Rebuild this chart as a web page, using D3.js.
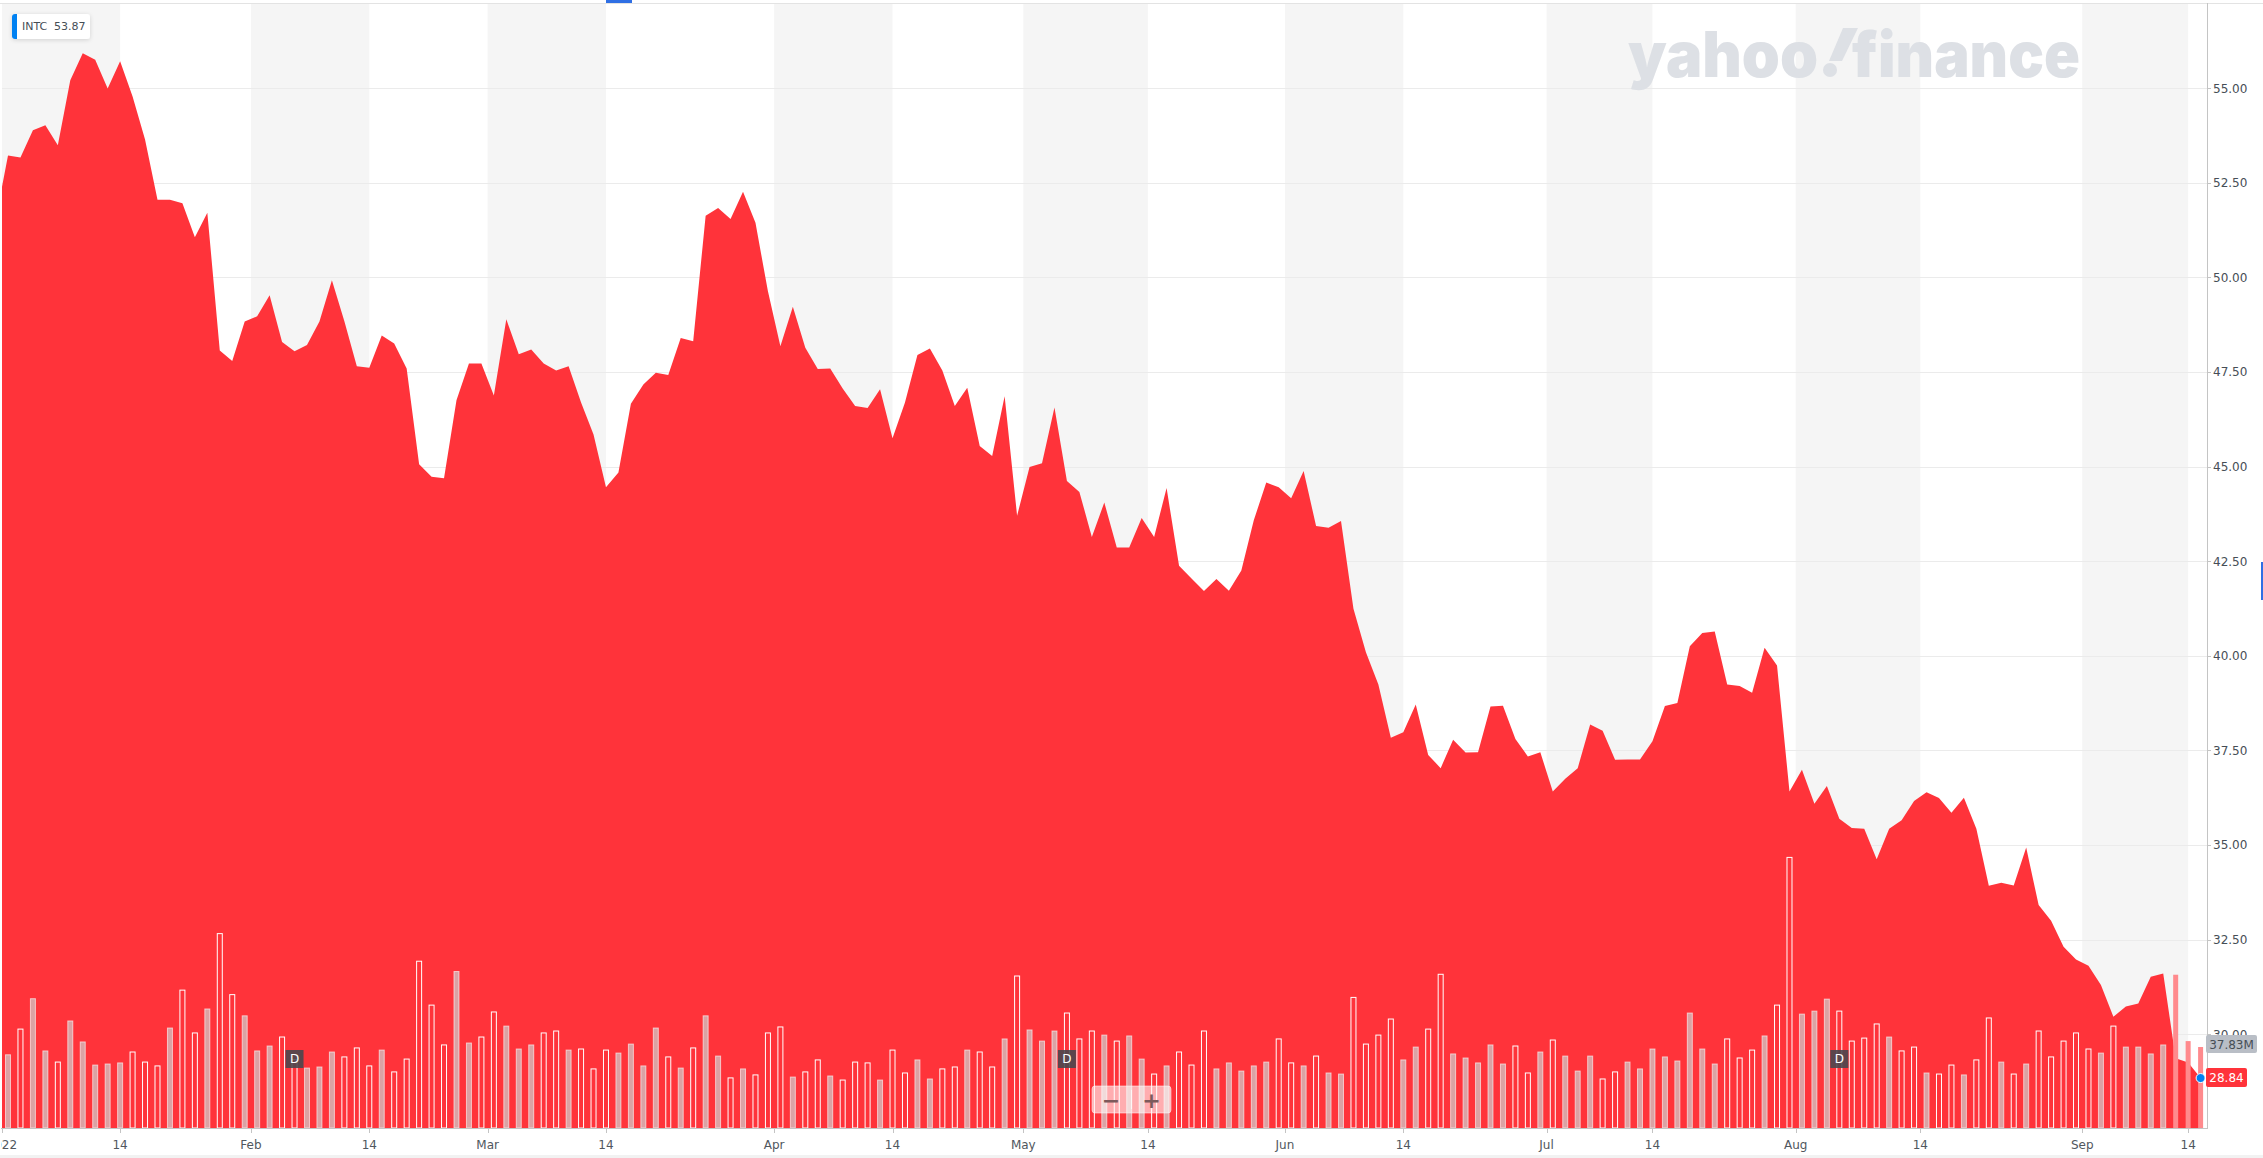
<!DOCTYPE html>
<html><head><meta charset="utf-8">
<script src="https://cdn.jsdelivr.net/npm/d3@7"></script>
<style>html,body{margin:0;padding:0;background:#fff;overflow:hidden}svg{display:block}</style>
</head><body>
<svg id="c" width="2263" height="1158"></svg>
<script>
// ---------- DATA ----------
const ticker = "INTC";
const headerValue = "53.87";
const dates = [
"2021-12-31",
"2022-01-03","2022-01-04","2022-01-05","2022-01-06","2022-01-07","2022-01-10","2022-01-11","2022-01-12","2022-01-13","2022-01-14",
"2022-01-18","2022-01-19","2022-01-20","2022-01-21","2022-01-24","2022-01-25","2022-01-26","2022-01-27","2022-01-28","2022-01-31",
"2022-02-01","2022-02-02","2022-02-03","2022-02-04","2022-02-07","2022-02-08","2022-02-09","2022-02-10","2022-02-11","2022-02-14",
"2022-02-15","2022-02-16","2022-02-17","2022-02-18","2022-02-22","2022-02-23","2022-02-24","2022-02-25","2022-02-28",
"2022-03-01","2022-03-02","2022-03-03","2022-03-04","2022-03-07","2022-03-08","2022-03-09","2022-03-10","2022-03-11","2022-03-14",
"2022-03-15","2022-03-16","2022-03-17","2022-03-18","2022-03-21","2022-03-22","2022-03-23","2022-03-24","2022-03-25","2022-03-28",
"2022-03-29","2022-03-30","2022-03-31",
"2022-04-01","2022-04-04","2022-04-05","2022-04-06","2022-04-07","2022-04-08","2022-04-11","2022-04-12","2022-04-13","2022-04-14",
"2022-04-18","2022-04-19","2022-04-20","2022-04-21","2022-04-22","2022-04-25","2022-04-26","2022-04-27","2022-04-28","2022-04-29",
"2022-05-02","2022-05-03","2022-05-04","2022-05-05","2022-05-06","2022-05-09","2022-05-10","2022-05-11","2022-05-12","2022-05-13",
"2022-05-16","2022-05-17","2022-05-18","2022-05-19","2022-05-20","2022-05-23","2022-05-24","2022-05-25","2022-05-26","2022-05-27","2022-05-31",
"2022-06-01","2022-06-02","2022-06-03","2022-06-06","2022-06-07","2022-06-08","2022-06-09","2022-06-10","2022-06-13","2022-06-14",
"2022-06-15","2022-06-16","2022-06-17","2022-06-21","2022-06-22","2022-06-23","2022-06-24","2022-06-27","2022-06-28","2022-06-29","2022-06-30",
"2022-07-01","2022-07-05","2022-07-06","2022-07-07","2022-07-08","2022-07-11","2022-07-12","2022-07-13","2022-07-14","2022-07-15",
"2022-07-18","2022-07-19","2022-07-20","2022-07-21","2022-07-22","2022-07-25","2022-07-26","2022-07-27","2022-07-28","2022-07-29",
"2022-08-01","2022-08-02","2022-08-03","2022-08-04","2022-08-05","2022-08-08","2022-08-09","2022-08-10","2022-08-11","2022-08-12",
"2022-08-15","2022-08-16","2022-08-17","2022-08-18","2022-08-19","2022-08-22","2022-08-23","2022-08-24","2022-08-25","2022-08-26",
"2022-08-29","2022-08-30","2022-08-31",
"2022-09-01","2022-09-02","2022-09-06","2022-09-07","2022-09-08","2022-09-09","2022-09-12","2022-09-13","2022-09-14","2022-09-15"
];
// closing prices (USD), same order as dates
const prices = [
51.50,
53.22,53.17,53.89,54.02,53.49,55.21,55.92,55.75,54.99,55.71,
54.78,53.64,52.05,52.05,51.96,51.06,51.71,48.07,47.79,48.83,
48.97,49.53,48.29,48.05,48.21,48.83,49.92,48.84,47.65,47.61,
48.46,48.25,47.59,45.06,44.73,44.69,46.75,47.72,47.72,
46.88,48.89,47.97,48.09,47.72,47.54,47.65,46.69,45.85,44.45,
44.84,46.66,47.17,47.48,47.42,48.40,48.31,51.63,51.83,51.54,
52.26,51.44,49.63,
48.18,49.22,48.14,47.58,47.59,47.06,46.60,46.55,47.04,45.75,
46.69,47.95,48.12,47.54,46.60,47.08,45.54,45.28,46.86,43.70,
44.99,45.09,46.56,44.62,44.33,43.14,44.05,42.86,42.86,43.64,
43.14,44.43,42.38,42.04,41.71,42.03,41.72,42.25,43.58,44.58,44.45,
44.16,44.88,43.43,43.38,43.56,41.24,40.09,39.24,37.83,37.98,
38.71,37.38,37.03,37.78,37.44,37.45,38.66,38.68,37.80,37.34,37.45,
36.41,36.75,37.03,38.18,38.02,37.25,37.26,37.26,37.74,38.67,
38.75,40.25,40.60,40.64,39.24,39.20,39.02,40.21,39.74,36.41,
36.99,36.09,36.56,35.69,35.45,35.43,34.62,35.43,35.65,36.16,
36.39,36.24,35.85,36.25,35.43,33.92,34.00,33.93,34.93,33.41,
33.00,32.31,31.97,
31.81,31.30,30.46,30.73,30.81,31.52,31.60,29.36,29.25,28.84
];
// volume, millions of shares (first date is outside the view)
const volumes = [
null,
34.2,46.2,60.4,36.0,30.8,50.0,40.2,29.4,29.9,30.4,35.5,30.8,29.0,46.7,64.4,44.4,55.6,90.8,62.3,52.4,
36.0,38.3,42.5,32.0,28.0,28.5,35.5,33.2,37.4,29.0,36.4,26.2,32.2,77.9,57.4,38.8,73.1,39.7,42.5,
54.2,47.6,36.9,38.8,44.4,45.3,36.4,36.9,27.6,36.4,35.0,39.2,29.0,46.7,33.2,28.0,37.4,52.4,33.6,23.4,27.6,24.8,44.4,
47.2,23.8,26.2,31.8,24.3,22.4,30.8,30.4,22.4,36.4,25.7,31.8,22.9,27.6,28.5,36.4,35.5,28.5,41.6,71.0,
45.8,40.6,45.3,53.7,41.6,45.3,43.4,40.6,43.0,32.2,25.2,29.0,35.5,29.4,45.3,27.6,30.4,26.6,29.0,30.8,41.6,
30.4,29.0,33.6,25.7,25.2,61.0,39.2,43.4,50.9,31.8,37.8,46.2,71.8,34.6,32.7,30.4,38.8,29.9,38.3,25.7,35.5,
41.1,33.6,26.6,33.6,22.9,26.2,30.8,27.6,36.9,33.2,31.3,53.7,36.9,29.9,41.6,32.7,36.4,43.0,57.4,126.4,
53.2,54.6,60.2,54.6,40.6,42.0,48.6,42.5,36.0,37.8,25.7,25.2,29.4,24.8,31.8,51.4,30.8,25.2,29.9,45.3,33.2,40.6,44.4,
36.9,35.0,47.6,37.8,37.8,34.6,38.8,71.6,40.6,37.83
];
// volume bar kind: u = up session, d = down session, c = current (highlighted)
const volKind = [
null,
"u","d","u","u","d","u","u","u","u","u","d","d","d","u","d","d","u","d","d","u",
"u","u","d","d","u","u","u","d","d","d","u","d","d","d","d","d","u","u","d",
"d","u","u","u","d","d","u","d","d","d","u","u","u","u","d","u","d","u","u","d","u","d","d",
"d","u","d","d","u","d","d","d","u","d","d","u","u","d","d","u","d","d","u","d",
"u","u","u","d","d","d","u","d","u","u","d","u","d","d","d","u","u","u","u","u","d",
"d","u","d","u","u","d","d","d","d","u","u","d","d","u","u","u","u","u","d","d","u",
"d","u","u","u","d","d","u","u","u","u","u","u","u","u","d","d","d","u","d","d",
"u","u","u","d","d","d","d","u","d","d","u","d","d","u","d","d","u","d","u","d","d","d","d",
"d","u","d","u","u","u","u","c","c","c"
];
const dividendDates = ["2022-02-04","2022-05-05","2022-08-04"];
const yTicks = [30, 32.5, 35, 37.5, 40, 42.5, 45, 47.5, 50, 52.5, 55];
const tickDates  = ["2022-01-01","2022-01-14","2022-02-01","2022-02-14","2022-03-01","2022-03-14","2022-04-01","2022-04-14","2022-05-01","2022-05-14","2022-06-01","2022-06-14","2022-07-01","2022-07-14","2022-08-01","2022-08-14","2022-09-01","2022-09-14"];
const tickLabels = ["2022","14","Feb","14","Mar","14","Apr","14","May","14","Jun","14","Jul","14","Aug","14","Sep","14"];
const lastVolumeLabel = "37.83M";

// ---------- LAYOUT ----------
const W = 2263, H = 1158;
const plot = {l: 2, r: 2207, t: 3, b: 1128};
const RED = "#ff333a";
const TXT = "#464e56";
const FONT = "'DejaVu Sans', Verdana, sans-serif";

const svg = d3.select("#c");
const x = d3.scaleLinear().domain([1, dates.length - 1]).range([8, 2200.6]);
const y = d3.scaleLinear().domain([27.52, 57.25]).range([plot.b, plot.t]);
const yv = d3.scaleLinear().domain([0, 130]).range([plot.b, plot.b - 278.3]);

// tick positions on the trading-day axis
function tickPos(ds) {
  const i = dates.findIndex(d => d >= ds);
  const day = +ds.slice(8, 10);
  if (day === 1) return i - 0.5;
  return dates[i] === ds ? i : i - 0.5;
}
const ticks = tickDates.map((d, k) => ({pos: tickPos(d), label: tickLabels[k]}));

svg.append("rect").attr("width", W).attr("height", H).attr("fill", "#fff");

const defs = svg.append("defs");
defs.append("clipPath").attr("id", "plotclip").append("rect")
  .attr("x", plot.l).attr("y", plot.t).attr("width", plot.r - plot.l).attr("height", plot.b - plot.t);
defs.append("clipPath").attr("id", "axisclip").append("rect")
  .attr("x", 1).attr("y", plot.b).attr("width", W).attr("height", H - plot.b);
const sh = defs.append("filter").attr("id", "shadow").attr("x", "-20%").attr("y", "-40%").attr("width", "140%").attr("height", "180%");
sh.append("feDropShadow").attr("dx", 0).attr("dy", 1).attr("stdDeviation", 2).attr("flood-color", "#000").attr("flood-opacity", 0.15);

const g = svg.append("g").attr("clip-path", "url(#plotclip)");

// alternating bands: month start -> 14th shaded
for (let k = 0; k < ticks.length; k += 2) {
  const x0 = x(ticks[k].pos), x1 = ticks[k + 1] ? x(ticks[k + 1].pos) : plot.r;
  g.append("rect").attr("x", x0).attr("y", plot.t).attr("width", x1 - x0).attr("height", plot.b - plot.t).attr("fill", "#f5f5f5");
}

// horizontal grid
g.selectAll("line.grid").data(yTicks).join("line").attr("class", "grid")
  .attr("x1", plot.l).attr("x2", plot.r).attr("y1", d => Math.round(y(d)) + 0.5).attr("y2", d => Math.round(y(d)) + 0.5)
  .attr("stroke", "#ebebeb").attr("stroke-width", 1);

// watermark  "yahoo!finance"
const wm = g.append("g").attr("fill", "#dde0e5");
const wmFont = "Inter, Lato, 'DejaVu Sans', sans-serif";
wm.append("text").attr("x", 1628).attr("y", 77).text("yahoo")
  .attr("font-family", wmFont).attr("font-weight", 900).attr("font-size", 63)
  .attr("textLength", 190).attr("lengthAdjust", "spacingAndGlyphs");
wm.append("path").attr("d", "M1843,28 L1858,28 L1842,61 L1829,61 Z");
wm.append("circle").attr("cx", 1830).attr("cy", 70).attr("r", 7);
wm.append("text").attr("x", 1852).attr("y", 77).text("finance")
  .attr("font-family", wmFont).attr("font-weight", 900).attr("font-size", 63)
  .attr("textLength", 228).attr("lengthAdjust", "spacingAndGlyphs");

// price area
const series = prices.map((p, i) => ({i, p}));
g.append("path").datum(series)
  .attr("d", d3.area().x(d => x(d.i)).y0(plot.b).y1(d => y(d.p)))
  .attr("fill", RED);

// volume bars
const bw = 5;
const vols = volumes.map((v, i) => ({i, v, k: volKind[i]})).filter(d => d.v != null);
g.selectAll("rect.vol").data(vols).join("rect").attr("class", "vol")
  .attr("x", d => x(d.i) - bw / 2).attr("y", d => yv(d.v)).attr("width", bw).attr("height", d => plot.b - yv(d.v))
  .attr("fill", d => d.k === "u" ? "rgba(205,205,205,0.72)" : d.k === "c" ? "#ff8a8d" : "none")
  .attr("stroke", d => d.k === "c" ? "none" : d.k === "u" ? "rgba(255,255,255,0.6)" : "#fff")
  .attr("stroke-width", 1);

// dividend markers
dividendDates.forEach(dd => {
  const cx = x(dates.indexOf(dd));
  g.append("rect").attr("x", cx - 9).attr("y", 1050).attr("width", 18).attr("height", 18).attr("fill", "rgba(70,72,78,0.88)");
  g.append("text").attr("x", cx).attr("y", 1059).attr("text-anchor", "middle").attr("dominant-baseline", "central")
    .attr("font-family", FONT).attr("font-size", 12).attr("fill", "#fff").text("D");
});

// zoom control
const zc = svg.append("g");
zc.append("rect").attr("x", 1092).attr("y", 1086).attr("width", 79).attr("height", 27).attr("rx", 3)
  .attr("fill", "rgba(255,255,255,0.6)").attr("stroke", "rgba(255,255,255,0.5)");
zc.append("line").attr("x1", 1131.5).attr("x2", 1131.5).attr("y1", 1090).attr("y2", 1109).attr("stroke", "rgba(255,255,255,0.7)");
zc.append("text").attr("x", 1111).attr("y", 1100).attr("text-anchor", "middle").attr("dominant-baseline", "central")
  .attr("font-family", FONT).attr("font-size", 22).attr("font-weight", 700).attr("fill", "#7d5a5c").text("−");
zc.append("text").attr("x", 1151.5).attr("y", 1100).attr("text-anchor", "middle").attr("dominant-baseline", "central")
  .attr("font-family", FONT).attr("font-size", 22).attr("font-weight", 700).attr("fill", "#7d5a5c").text("+");

// frame lines
svg.append("line").attr("x1", 0).attr("x2", W).attr("y1", 3.5).attr("y2", 3.5).attr("stroke", "#e3e3e3");
svg.append("rect").attr("x", 0).attr("y", 1155).attr("width", W).attr("height", 3).attr("fill", "#f2f2f2");

// right axis
const ya = svg.append("g");
ya.append("line").attr("x1", plot.r + 0.5).attr("x2", plot.r + 0.5).attr("y1", plot.t).attr("y2", plot.b).attr("stroke", "#c4c4c4");
ya.selectAll("line.t").data(yTicks).join("line").attr("class", "t")
  .attr("x1", plot.r).attr("x2", plot.r + 4).attr("y1", d => Math.round(y(d)) + 0.5).attr("y2", d => Math.round(y(d)) + 0.5).attr("stroke", "#c4c4c4");
ya.selectAll("text").data(yTicks).join("text")
  .attr("x", 2213).attr("y", d => y(d) + 0.5).attr("dominant-baseline", "central")
  .attr("font-family", FONT).attr("font-size", 12).attr("fill", TXT).text(d => d3.format(".2f")(d));

// bottom axis
const xa = svg.append("g").attr("clip-path", "url(#axisclip)");
xa.append("line").attr("x1", 0).attr("x2", plot.r + 1).attr("y1", plot.b + 0.5).attr("y2", plot.b + 0.5).attr("stroke", "#c4c4c4");
xa.selectAll("line.t").data(ticks).join("line").attr("class", "t")
  .attr("x1", d => Math.round(x(d.pos)) + 0.5).attr("x2", d => Math.round(x(d.pos)) + 0.5)
  .attr("y1", plot.b).attr("y2", plot.b + 5).attr("stroke", "#c4c4c4");
xa.selectAll("text").data(ticks).join("text")
  .attr("x", d => x(d.pos)).attr("y", 1148.5).attr("text-anchor", "middle")
  .attr("font-family", FONT).attr("font-size", 12).attr("fill", "#50575e").text(d => d.label);

// last value markers
const li = prices.length - 1;
svg.append("rect").attr("x", 2206).attr("y", 1035).attr("width", 51).attr("height", 18).attr("rx", 2).attr("fill", "#b9bec6");
svg.append("text").attr("x", 2231.5).attr("y", 1044.5).attr("text-anchor", "middle").attr("dominant-baseline", "central")
  .attr("font-family", FONT).attr("font-size", 12).attr("fill", TXT).text(lastVolumeLabel);
svg.append("rect").attr("x", 2206).attr("y", 1068).attr("width", 41).attr("height", 19).attr("rx", 2).attr("fill", RED);
svg.append("text").attr("x", 2226.5).attr("y", 1078).attr("text-anchor", "middle").attr("dominant-baseline", "central")
  .attr("font-family", FONT).attr("font-size", 12).attr("fill", "#fff").text(d3.format(".2f")(prices[li]));
svg.append("circle").attr("cx", x(li)).attr("cy", y(prices[li])).attr("r", 4.5).attr("fill", "#0081f2").attr("stroke", "#fff").attr("stroke-width", 1);

// ticker badge
const badge = svg.append("g");
badge.append("rect").attr("x", 12).attr("y", 14).attr("width", 78).attr("height", 25).attr("rx", 3).attr("fill", "#fff").attr("filter", "url(#shadow)");
badge.append("path").attr("d", "M15,14 h2 v25 h-2 a3,3 0 0 1 -3,-3 v-19 a3,3 0 0 1 3,-3 z").attr("fill", "#0081f2");
badge.append("text").attr("x", 22).attr("y", 26.5).attr("dominant-baseline", "central")
  .attr("font-family", FONT).attr("font-size", 11).attr("fill", TXT).text(ticker);
badge.append("text").attr("x", 54).attr("y", 26.5).attr("dominant-baseline", "central")
  .attr("font-family", FONT).attr("font-size", 11).attr("fill", TXT).text(headerValue);

// small UI accents
svg.append("rect").attr("x", 606).attr("y", 0).attr("width", 26).attr("height", 3).attr("fill", "#2f6fe4");
svg.append("rect").attr("x", 2261).attr("y", 562).attr("width", 2).attr("height", 38).attr("fill", "#2f6fe4");
</script>
</body></html>
